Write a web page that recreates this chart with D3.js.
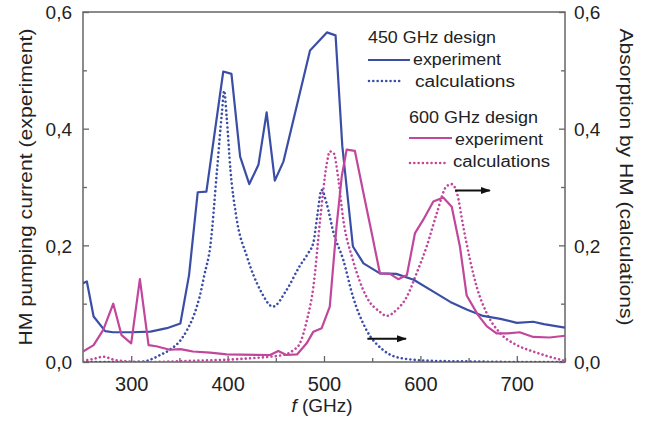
<!DOCTYPE html>
<html><head><meta charset="utf-8">
<script src="https://cdn.jsdelivr.net/npm/d3@7"></script>
<style>
html,body{margin:0;padding:0;background:#fff;}
svg{display:block;font-family:"Liberation Sans",Arial,sans-serif;}
</style></head>
<body><svg id="c" width="648" height="421"></svg>
<script>
// ---- data ----
const exp450F = [250,254,261,273,281,300,320,337,351,360,369,378,395.5,404,413,422.5,432,440.5,449,458,485.5,503,512,519,530,541,558,575,593,613,631,648,665,683,700,717,728,750];
const exp450V = [0.135,0.138,0.078,0.053,0.051,0.051,0.052,0.058,0.066,0.149,0.291,0.292,0.498,0.494,0.352,0.305,0.338,0.428,0.311,0.344,0.534,0.565,0.560,0.37,0.198,0.169,0.152,0.151,0.141,0.121,0.103,0.090,0.079,0.074,0.067,0.069,0.065,0.059];

const calc450F = [250,280,300,313,330,340,350,358,365,371,376,382,389,394,396.5,399,403,409,420,434,447,461,475,483,489,493,497.5,503,510,520,530,544,561,582,613,650,700,750];
const calc450V = [0.0,0.0,0.0,0.001,0.012,0.021,0.035,0.055,0.08,0.112,0.15,0.198,0.329,0.426,0.465,0.421,0.329,0.249,0.181,0.123,0.095,0.123,0.165,0.185,0.205,0.25,0.295,0.27,0.221,0.175,0.112,0.055,0.021,0.006,0.002,0.001,0.0,0.0];

const exp600F = [250,261,271,281.4,290,300,309,318,326,340,351,358,364,382,399,444,452.6,461,472,482,489,497.6,506,513,518.4,523.5,532,541,549.5,558,568.5,577,586,594.4,603,613.4,623.7,632.5,641,648,660,669,679,690,703,717,734,750];
const exp600V = [0.018,0.029,0.055,0.1,0.046,0.032,0.142,0.029,0.027,0.021,0.022,0.02,0.018,0.016,0.013,0.012,0.019,0.012,0.013,0.032,0.052,0.058,0.095,0.232,0.318,0.364,0.362,0.289,0.221,0.152,0.151,0.142,0.149,0.221,0.244,0.275,0.282,0.266,0.198,0.114,0.08,0.061,0.049,0.049,0.051,0.043,0.042,0.045];

const calc600F = [250,260,271,282,295,320,360,400,420,443.5,460,468,475,482,489,496,503,506,510,515,520,530,544,558,565,575,586,596,606.5,617,627,632.5,638,644.5,651.5,658.4,669,683,700,717,734,750];
const calc600V = [0.002,0.005,0.009,0.004,0.001,0.0,0.002,0.004,0.006,0.009,0.013,0.02,0.032,0.07,0.129,0.244,0.341,0.361,0.358,0.312,0.244,0.175,0.112,0.086,0.079,0.089,0.112,0.152,0.198,0.255,0.301,0.305,0.289,0.232,0.175,0.129,0.083,0.049,0.029,0.018,0.009,0.002];

const xTicks = [300,400,500,600,700];
const yTicks = [0.0,0.2,0.4,0.6];
const arrowsF = [[545,585],[636,672]];
const arrowsV = [0.04,0.294];

// ---- layout ----
const W=648,H=421;
const L=83,R=565,T=12,B=362;
const svg=d3.select("#c");
const x=d3.scaleLinear().domain([250,750]).range([L,R]);
const y=d3.scaleLinear().domain([0,0.6]).range([B,T]);
const y2=d3.scaleLinear().domain([0,0.6]).range([B,T]);

const BLUE="#3b4ea6", PINK="#c0479b", AX="#666";
const fmt=d=>d3.format(".1f")(d).replace(".",",");

// frame
svg.append("rect").attr("x",L).attr("y",T).attr("width",R-L).attr("height",B-T)
  .attr("fill","none").attr("stroke",AX).attr("stroke-width",1.5);

// axes
const gx=svg.append("g").attr("transform",`translate(0,${B})`)
  .call(d3.axisBottom(x).tickValues(d3.range(300,751,50)).tickSize(-6).tickFormat(d=>xTicks.includes(d)?d:""));
gx.selectAll(".tick line").attr("y2",d=>xTicks.includes(d)?-6:-4);
const gy=svg.append("g").attr("transform",`translate(${L},0)`)
  .call(d3.axisLeft(y).tickValues(d3.range(0,0.61,0.1).map(v=>+v.toFixed(1))).tickSize(-6)
    .tickFormat(d=>yTicks.some(t=>Math.abs(t-d)<1e-9)?fmt(d):""));
gy.selectAll(".tick line").attr("x2",d=>yTicks.some(t=>Math.abs(t-d)<1e-9)?6:4);
const gy2=svg.append("g").attr("transform",`translate(${R},0)`)
  .call(d3.axisRight(y2).tickValues(d3.range(0,0.61,0.1).map(v=>+v.toFixed(1))).tickSize(-6)
    .tickFormat(d=>yTicks.some(t=>Math.abs(t-d)<1e-9)?fmt(d):""));
gy2.selectAll(".tick line").attr("x2",d=>yTicks.some(t=>Math.abs(t-d)<1e-9)?-6:-4);

[gx,gy,gy2].forEach(g=>{
  g.select(".domain").remove();
  g.selectAll(".tick line").attr("stroke",AX).attr("stroke-width",1.3);
  g.selectAll("text").attr("fill","#222").attr("font-size",19).attr("font-family","Liberation Sans, Arial, sans-serif");
});
gx.selectAll("text").attr("dy",0).attr("y",29).attr("font-size",20);
gy.selectAll("text").attr("x",-11).attr("dy","0.36em");
gy2.selectAll("text").attr("x",9).attr("dy","0.36em");

// axis titles
const xl=svg.append("text").attr("x",322).attr("y",412).attr("text-anchor","middle")
  .attr("font-size",19).attr("fill","#222");
xl.append("tspan").attr("font-style","italic").text("f");
xl.append("tspan").text(" (GHz)");
svg.append("text").attr("transform","translate(32,187) rotate(-90)").attr("text-anchor","middle")
  .attr("font-size",18).attr("fill","#222").attr("textLength",317).attr("lengthAdjust","spacingAndGlyphs")
  .text("HM pumping current (experiment)");
svg.append("text").attr("transform","translate(620,177) rotate(90)").attr("text-anchor","middle")
  .attr("font-size",18).attr("fill","#222").attr("textLength",297).attr("lengthAdjust","spacingAndGlyphs")
  .text("Absorption by HM (calculations)");

// lines
const clip=svg.append("clipPath").attr("id","cp").append("rect").attr("x",L).attr("y",T-5).attr("width",R-L).attr("height",B-T+5);
function draw(F,V,col,dotted,sc){
  const data=F.map((f,i)=>[f,V[i]]);
  const line=d3.line().x(d=>x(d[0])).y(d=>sc(d[1])).curve(dotted?d3.curveMonotoneX:d3.curveLinear);
  const p=svg.append("path").datum(data).attr("d",line).attr("fill","none").attr("stroke",col)
    .attr("clip-path","url(#cp)");
  if(dotted) p.attr("stroke-width",2.6).attr("stroke-linecap","round").attr("stroke-dasharray","0.01,4.3");
  else p.attr("stroke-width",2.2).attr("stroke-linejoin","round");
}
draw(calc450F,calc450V,BLUE,true,y2);
draw(calc600F,calc600V,PINK,true,y2);
draw(exp450F,exp450V,BLUE,false,y);
draw(exp600F,exp600V,PINK,false,y);

// arrows
svg.append("defs").append("marker").attr("id","ah").attr("viewBox","0 0 10 10").attr("refX",9).attr("refY",5)
  .attr("markerWidth",5).attr("markerHeight",5).attr("orient","auto")
  .append("path").attr("d","M0,1.5 L10,5 L0,8.5 Z").attr("fill","#111");
arrowsF.forEach((a,i)=>{
  svg.append("line").attr("x1",x(a[0])).attr("x2",x(a[1])).attr("y1",y2(arrowsV[i])).attr("y2",y2(arrowsV[i]))
    .attr("stroke","#111").attr("stroke-width",2).attr("marker-end","url(#ah)");
});

// legend
const lg=svg.append("g").attr("font-size",16).attr("fill","#222");
function ltext(tx,ty,s,len){lg.append("text").attr("x",tx).attr("y",ty).attr("textLength",len).attr("lengthAdjust","spacingAndGlyphs").text(s);}
function lline(x1,x2,yy,col,dotted){
  const l=lg.append("line").attr("x1",x1).attr("x2",x2).attr("y1",yy).attr("y2",yy).attr("stroke",col);
  if(dotted) l.attr("stroke-width",2.6).attr("stroke-linecap","round").attr("stroke-dasharray","0.01,4.3");
  else l.attr("stroke-width",2.2);
}
ltext(368,43,"450 GHz design",128);
lline(368,410,60,BLUE,false); ltext(413,65,"experiment",88);
lline(369,403,81,BLUE,true); ltext(415,87,"calculations",100);
ltext(409,123,"600 GHz design",129);
lline(409,452,138,PINK,false); ltext(455,145,"experiment",88);
lline(410,448,163,PINK,true); ltext(453,167,"calculations",97);
</script></body></html>
